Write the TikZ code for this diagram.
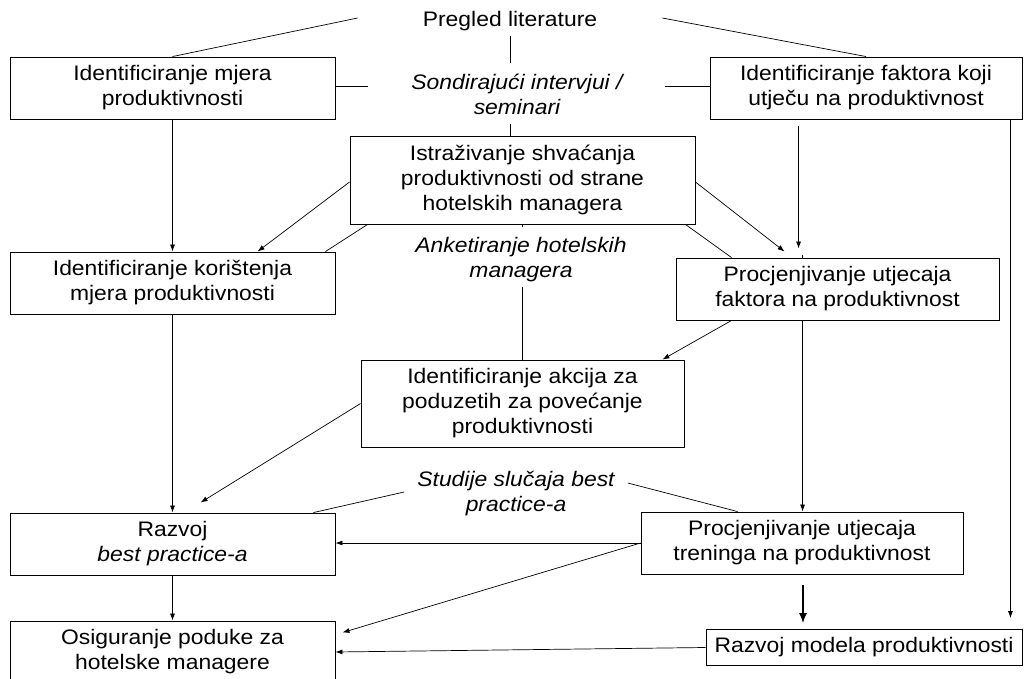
\documentclass[tikz,border=0pt]{standalone}
\usepackage{fontspec}
\setmainfont{Liberation Sans}[FakeStretch=1.09]
\usetikzlibrary{arrows.meta,calc}
\newcommand\dfs{\fontsize{21}{25}\selectfont}
\begin{document}
\begin{tikzpicture}[x=1pt,y=-1pt,
 box/.style={draw,line width=0.9pt,align=center,inner sep=0pt,font=\dfs},
 lbl/.style={align=center,inner sep=0pt,font=\dfs\itshape},
 plainlbl/.style={align=center,inner sep=0pt,font=\dfs},
 con/.style={line width=0.7pt},
 arr/.style={con,-{Latex[length=7pt,width=5pt]}},
 bigarr/.style={line width=1.4pt,-{Latex[length=10pt,width=8pt]}}]
\useasboundingbox[fill=white] (0,0) rectangle (1028,679);

\node[box,minimum width=325pt,minimum height=62pt] (A) at (172.5,88) {Identificiranje mjera\\produktivnosti};
\node[box,minimum width=312pt,minimum height=62pt] (B) at (866,88) {Identificiranje faktora koji\\utječu na produktivnost};
\node[box,minimum width=345pt,minimum height=88pt] (C) at (522.5,180) {Istraživanje shvaćanja\\produktivnosti od strane\\hotelskih managera};
\node[box,minimum width=325pt,minimum height=62pt] (D) at (172.5,283) {Identificiranje korištenja\\mjera produktivnosti};
\node[box,minimum width=323pt,minimum height=62pt] (E) at (837.5,289) {Procjenjivanje utjecaja\\faktora na produktivnost};
\node[box,minimum width=323pt,minimum height=87pt] (F) at (522.5,403.5) {Identificiranje akcija za\\poduzetih za povećanje\\produktivnosti};
\node[box,minimum width=325pt,minimum height=62pt] (G) at (172.5,544) {Razvoj\\\textit{best practice-a}};
\node[box,minimum width=322pt,minimum height=62pt] (H) at (802,543) {Procjenjivanje utjecaja\\treninga na produktivnost};
\node[box,minimum width=325pt,minimum height=62pt] (I) at (172.5,652) {Osiguranje poduke za\\hotelske managere};
\node[box,minimum width=316pt,minimum height=36pt] (J) at (864,647.5) {Razvoj modela produktivnosti};

\node[plainlbl] (P) at (510,21) {Pregled literature};
\node[lbl] (S) at (517,94) {Sondirajući intervjui /\\seminari};
\node[lbl] (K) at (521,260) {Anketiranje hotelskih\\managera};
\node[lbl] (T) at (516,494) {Studije slučaja best\\practice-a};

% top
\draw[con] ($(P.west)+(-65,-3)$) -- (A.north);
\draw[con] ($(P.east)+(65,-3)$) -- (B.north);
\draw[con] ($(P.south)+(0,5)$) -- ($(P.south)+(0,32)$);
\draw[con] ($(C.north)+(-12,-12)$) -- ($(C.north)+(-12,0)$);
\draw[con] ($(A.east)+(0,-2)$) -- ++(33,0);
\draw[con] ($(B.west)+(0,-2)$) -- ++(-45,0);
% anketiranje
\draw[con] (C.south) -- ++(0,3);
\draw[con] ($(F.north)+(0,-73)$) -- (F.north);
\draw[con] ($(C.south west)+(18,0)$) -- ($(D.north east)+(-10,0)$);
\draw[con] ($(C.south east)+(-10,0)$) -- ($(E.north west)+(56,0)$);
\draw[con] ($(E.north west)+(127,-3)$) -- ($(E.north west)+(127,0)$);
% arrows
\draw[arr] (A.south) -- (D.north);
\draw[arr] ($(C.west)+(0,2)$) -- ($(D.north west)+(248,0)$);
\draw[arr] ($(C.east)+(0,2)$) -- ($(E.north west)+(109,-6)$);
\draw[arr] ($(B.south west)+(89,7)$) -- ($(E.north west)+(123,-9)$);
\draw[arr] ($(B.south east)+(-12,0)$) -- ($(J.north east)+(-12,-11)$);
\draw[arr] ($(E.south west)+(56,0)$) -- ($(F.north east)+(-22,0)$);
\draw[arr] ($(E.south west)+(127,0)$) -- ($(H.north west)+(162,0)$);
\draw[arr] (F.west) -- ($(G.north west)+(191,-10)$);
\draw[arr] (D.south) -- (G.north);
\draw[arr] (G.south) -- (I.north);
% studije
\draw[con] ($(T.west)+(-13,-2)$) -- ($(G.north east)+(-22,0)$);
\draw[con] ($(T.east)+(13,-11)$) -- ($(H.north west)+(97,0)$);
% bottom
\draw[arr] (H.west) -- (H.west -| G.east);
\draw[arr] (H.west) -- ($(I.north east)+(7,12)$);
\draw[bigarr] ($(H.south)+(1,11)$) -- ($(J.north)+(-61,-6)$);
\draw[arr] (J.west) -- (I.east);
\end{tikzpicture}
\end{document}
